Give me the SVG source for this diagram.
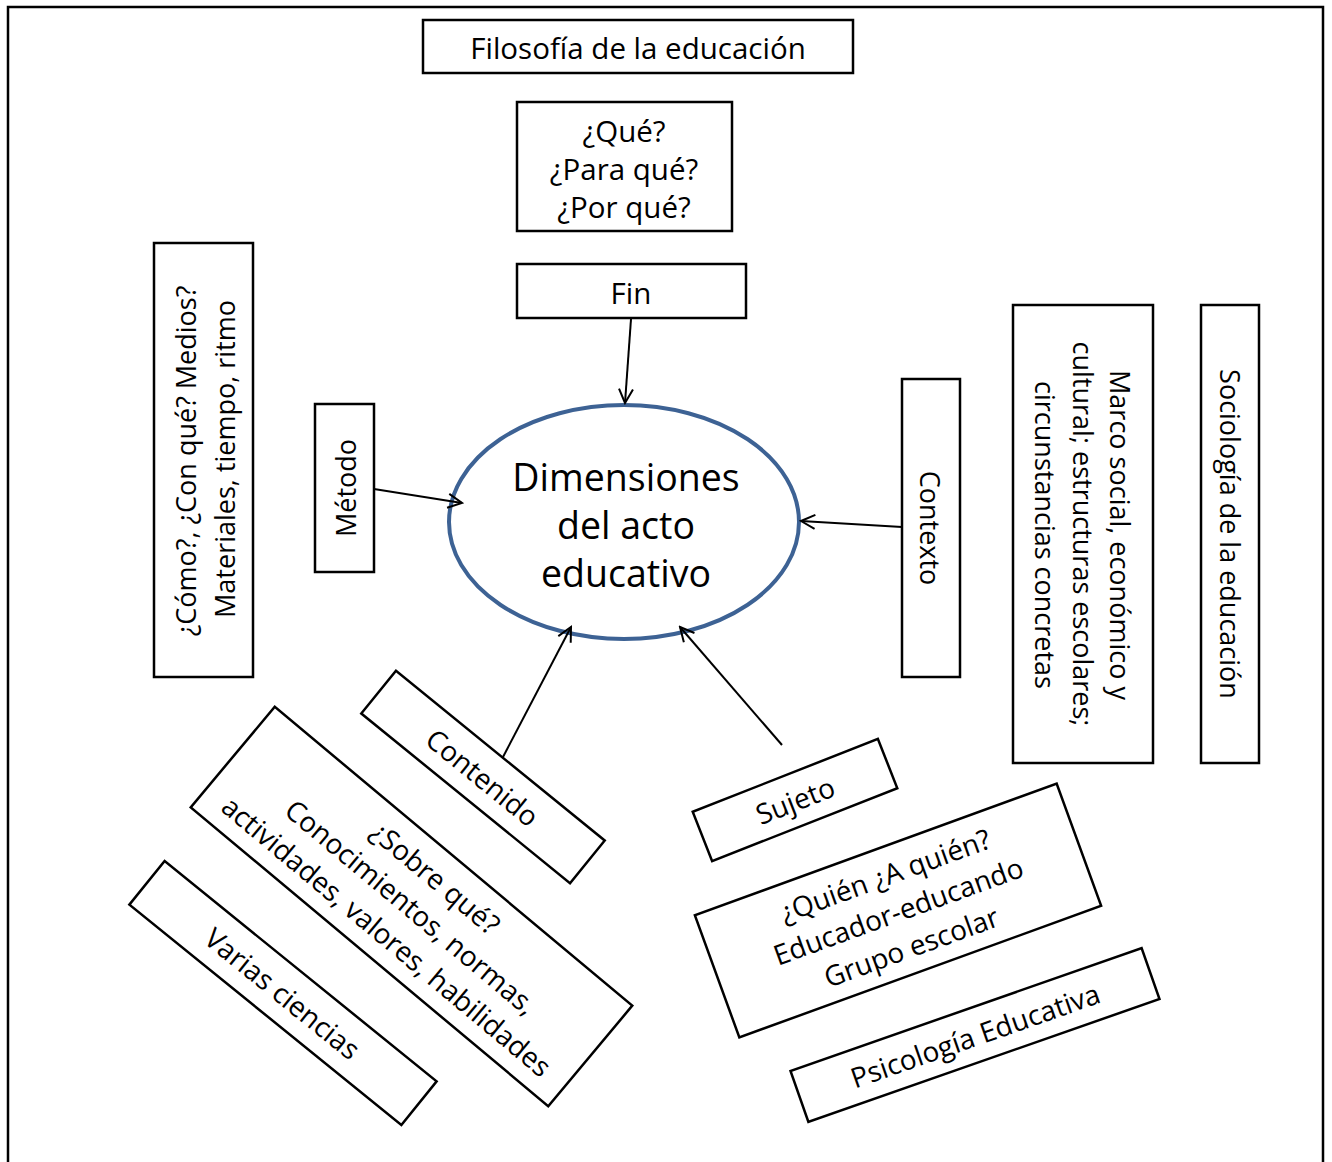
<svg xmlns="http://www.w3.org/2000/svg" width="1332" height="1162" viewBox="0 0 1332 1162">
<style>
.box{fill:#fff;stroke:#000;stroke-width:2.5}
.t{font-family:"Open Sans","Noto Sans",sans-serif;font-size:27px;font-weight:500;fill:#000;text-anchor:middle;dominant-baseline:central}
.h{font-size:29.5px}
.r{font-size:28px}
.big{font-size:37.5px}
.conn{stroke:#000;stroke-width:2;fill:none}
</style>
<defs>
<marker id="arr" markerUnits="userSpaceOnUse" viewBox="-16 -10 18 20" refX="0" refY="0" markerWidth="18" markerHeight="20" orient="auto">
<path d="M-14,-7 L0,0 L-14,7" fill="none" stroke="#000" stroke-width="2"/>
</marker>
</defs>
<rect width="1332" height="1162" fill="#fff"/>
<path d="M8,1164 V7 H1323 V1164" fill="none" stroke="#000" stroke-width="2.5"/>

<g id="filosofia">
<rect class="box" x="423" y="20" width="430" height="53"/>
<text class="t h" x="638" y="47">Filosofía de la educación</text>
</g>
<g id="preguntas-fin">
<rect class="box" x="517" y="102" width="215" height="129"/>
<text class="t h" x="624" y="130">¿Qué?</text>
<text class="t h" x="624" y="168">¿Para qué?</text>
<text class="t h" x="624" y="206">¿Por qué?</text>
</g>
<g id="fin">
<rect class="box" x="517" y="264" width="229" height="54"/>
<text class="t h" x="631" y="292">Fin</text>
</g>
<g id="dimensiones">
<ellipse cx="624" cy="522" rx="175" ry="117" fill="#fff" stroke="#3d6294" stroke-width="4"/>
<text class="t big" x="626" y="476">Dimensiones</text>
<text class="t big" x="626" y="524">del acto</text>
<text class="t big" x="626" y="572">educativo</text>
</g>
<g id="metodo">
<rect class="box" x="315" y="404" width="59" height="168"/>
<text class="t" transform="translate(345,488) rotate(-90)">Método</text>
</g>
<g id="como">
<rect class="box" x="154" y="243" width="99" height="434"/>
<text class="t" transform="translate(185,461) rotate(-90)">¿Cómo?, ¿Con qué? Medios?</text>
<text class="t" transform="translate(224,459) rotate(-90)">Materiales, tiempo, ritmo</text>
</g>
<g id="contexto">
<rect class="box" x="902" y="379" width="58" height="298"/>
<text class="t" transform="translate(930,528) rotate(90)">Contexto</text>
</g>
<g id="marco">
<rect class="box" x="1013" y="305" width="140" height="458"/>
<text class="t" transform="translate(1120,535) rotate(90)">Marco social, económico y</text>
<text class="t" transform="translate(1083,534) rotate(90)">cultural; estructuras escolares;</text>
<text class="t" transform="translate(1045,535) rotate(90)">circunstancias concretas</text>
</g>
<g id="sociologia">
<rect class="box" x="1201" y="305" width="58" height="458"/>
<text class="t" transform="translate(1230,534) rotate(90)">Sociología de la educación</text>
</g>
<g id="contenido" transform="translate(483,777) rotate(39.1)">
<rect class="box" x="-134.5" y="-27.5" width="269" height="55"/>
<text class="t r" x="0" y="0">Contenido</text>
</g>
<g id="sobre-que" transform="translate(411.5,906.5) rotate(39.9)">
<rect class="box" x="-233" y="-65.5" width="466" height="131"/>
<text class="t r" x="0" y="-38">¿Sobre qué?</text>
<text class="t r" x="0" y="0">Conocimientos, normas,</text>
<text class="t r" x="0" y="38">actividades, valores, habilidades</text>
</g>
<g id="varias-ciencias" transform="translate(283,993) rotate(39)">
<rect class="box" x="-175" y="-28" width="350" height="56"/>
<text class="t r" x="0" y="0">Varias ciencias</text>
</g>
<g id="sujeto" transform="translate(795,800) rotate(-21.5)">
<rect class="box" x="-99.5" y="-26.5" width="199" height="53"/>
<text class="t r" x="0" y="0">Sujeto</text>
</g>
<g id="quien" transform="translate(898,910.5) rotate(-20)">
<rect class="box" x="-192.5" y="-65" width="385" height="130"/>
<text class="t r" x="0" y="-38">¿Quién ¿A quién?</text>
<text class="t r" x="0" y="0">Educador-educando</text>
<text class="t r" x="0" y="38">Grupo escolar</text>
</g>
<g id="psicologia" transform="translate(975,1035) rotate(-19.3)">
<rect class="box" x="-186" y="-27" width="372" height="54"/>
<text class="t r" x="0" y="0">Psicología Educativa</text>
</g>
<g id="connectors">
<line class="conn" x1="631" y1="319" x2="625" y2="403" marker-end="url(#arr)"/>
<line class="conn" x1="374" y1="489" x2="462" y2="503" marker-end="url(#arr)"/>
<line class="conn" x1="902" y1="527" x2="801" y2="521" marker-end="url(#arr)"/>
<line class="conn" x1="503" y1="757" x2="571" y2="627" marker-end="url(#arr)"/>
<line class="conn" x1="782" y1="745" x2="680" y2="627" marker-end="url(#arr)"/>
</g>
</svg>
